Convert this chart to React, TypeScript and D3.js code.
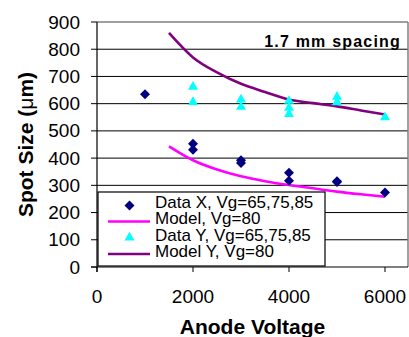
import * as d3 from "d3";

// Data X (diamonds) and Data Y (triangles), Vg = 65,75,85
const dataXVolts = [1000, 2000, 2000, 3000, 3000, 4000, 4000, 5000, 5000, 6000];
const dataXSize = [635, 453, 431, 392, 382, 346, 317, 315, 312, 274];

const dataYVolts = [2000, 2000, 3000, 3000, 4000, 4000, 4000, 5000, 5000, 6000];
const dataYSize = [662, 606, 615, 588, 610, 585, 562, 625, 605, 550];

// model curves, Vg = 80
const modelVolts = [1500, 2000, 2500, 3000, 3500, 4000, 4500, 5000, 5500, 6000];
const modelX = [443, 392, 358, 333, 315, 301, 289, 277, 267, 258];
const modelY = [860, 770, 715, 673, 643, 615, 602, 590, 575, 560];

const yTicks = [0, 100, 200, 300, 400, 500, 600, 700, 800, 900];
const xTicks = [0, 2000, 4000, 6000];

const legendLabels = [
  "Data X, Vg=65,75,85",
  "Model, Vg=80",
  "Data Y, Vg=65,75,85",
  "Model Y, Vg=80",
];

const W = 409;
const H = 337;
const font = "'Liberation Sans', Arial, sans-serif";

export default function App() {
  const left = 97;
  const right = 408;
  const top = 22;
  const bottom = 267;

  const x = d3.scaleLinear().domain([0, 6000]).range([left, left + 288]);
  const y = d3.scaleLinear().domain([0, 900]).range([bottom, top]);

  const line = d3
    .line<[number, number]>()
    .x((d) => x(d[0]))
    .y((d) => y(d[1]))
    .curve(d3.curveMonotoneX);

  const pathX = line(modelVolts.map((v, i) => [v, modelX[i]]) as [number, number][]) ?? "";
  const pathY = line(modelVolts.map((v, i) => [v, modelY[i]]) as [number, number][]) ?? "";

  const diamond = d3.symbol(d3.symbolDiamond2, 64)() ?? "";
  const triangle = d3.symbol(d3.symbolTriangle2, 72)() ?? "";

  const legendX = 98;
  const legendY = 192;
  const rowBase = [207.5, 224, 240.5, 257];

  return (
    <svg width={W} height={H} style={{ position: "absolute", left: 0, top: 0, background: "#fff" }}>
      <rect x={0} y={0} width={W} height={H} fill="#fff" />

      {/* grid */}
      {yTicks
        .filter((t) => t > 0 && t < 900)
        .map((t) => (
          <line key={t} x1={left} x2={right} y1={y(t)} y2={y(t)} stroke="#000" strokeWidth={1} />
        ))}
      {/* plot border (top / right) */}
      <line x1={left} x2={right} y1={top} y2={top} stroke="#808080" strokeWidth={1.5} />
      <line x1={right} x2={right} y1={top} y2={bottom} stroke="#808080" strokeWidth={1.5} />

      {/* axes */}
      <line x1={left} x2={left} y1={top} y2={bottom + 5} stroke="#000" strokeWidth={1.2} />
      <line x1={left - 6} x2={right} y1={bottom} y2={bottom} stroke="#000" strokeWidth={1.2} />
      {yTicks.map((t) => (
        <g key={t}>
          <line x1={left - 6} x2={left} y1={y(t)} y2={y(t)} stroke="#000" strokeWidth={1} />
          <text
            x={80}
            y={y(t) + 6.5}
            textAnchor="end"
            fontFamily={font}
            fontSize={19}
            fill="#000"
          >
            {t}
          </text>
        </g>
      ))}
      {xTicks.map((t) => (
        <g key={t}>
          <line x1={x(t)} x2={x(t)} y1={bottom} y2={bottom + 5} stroke="#000" strokeWidth={1} />
          <text x={x(t)} y={303} textAnchor="middle" fontFamily={font} fontSize={19} fill="#000">
            {t}
          </text>
        </g>
      ))}

      {/* model curves */}
      <path d={pathY} fill="none" stroke="#800080" strokeWidth={2.6} />
      <path d={pathX} fill="none" stroke="#ff00ff" strokeWidth={2.6} />

      {/* data points */}
      {dataYVolts.map((v, i) => (
        <path
          key={"ty" + i}
          d={triangle}
          transform={`translate(${x(v)},${y(dataYSize[i])})`}
          fill="#00ffff"
        />
      ))}
      {dataXVolts.map((v, i) => (
        <path
          key={"dx" + i}
          d={diamond}
          transform={`translate(${x(v)},${y(dataXSize[i])})`}
          fill="#000080"
        />
      ))}

      {/* annotation */}
      <text
        x={401}
        y={47}
        textAnchor="end"
        fontFamily={font}
        fontSize={16}
        fontWeight="bold"
        letterSpacing={1.2}
        fill="#000"
      >
        1.7 mm spacing
      </text>

      {/* legend */}
      <rect x={legendX} y={legendY} width={227} height={74} fill="#fff" stroke="#000" strokeWidth={1.2} />
      <path d={diamond} transform={`translate(129.5,${rowBase[0] - 2})`} fill="#000080" />
      <line x1={108} x2={150} y1={rowBase[1] - 2.5} y2={rowBase[1] - 2.5} stroke="#ff00ff" strokeWidth={2.6} />
      <path d={triangle} transform={`translate(129.5,${rowBase[2] - 3})`} fill="#00ffff" />
      <line x1={108} x2={150} y1={rowBase[3] - 3} y2={rowBase[3] - 3} stroke="#800080" strokeWidth={2.6} />
      {legendLabels.map((l, i) => (
        <text key={l} x={155} y={rowBase[i]} fontFamily={font} fontSize={17} fill="#000">
          {l}
        </text>
      ))}

      {/* axis titles */}
      <text
        x={(left + right) / 2}
        y={334}
        textAnchor="middle"
        fontFamily={font}
        fontSize={21}
        fontWeight="bold"
        fill="#000"
      >
        Anode Voltage
      </text>
      <text
        transform={`translate(33,${(top + bottom) / 2}) rotate(-90)`}
        textAnchor="middle"
        fontFamily={font}
        fontSize={21}
        fontWeight="bold"
        fill="#000"
      >
        Spot Size (<tspan fontWeight="normal">μ</tspan>m)
      </text>
    </svg>
  );
}
